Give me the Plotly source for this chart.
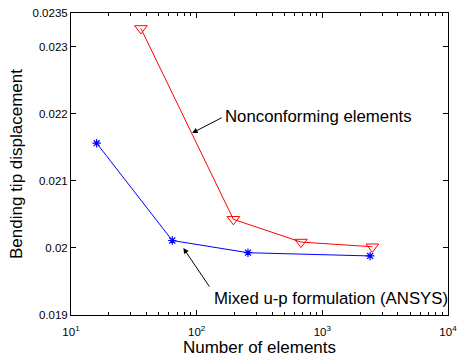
import plotly.graph_objects as go

# Data
mixed_n = [16, 64, 256, 2400]
mixed_disp = [0.02156, 0.02011, 0.019928, 0.01988]
noncon_n = [36, 196, 676, 2500]
noncon_disp = [0.02327, 0.020426, 0.020087, 0.020017]

x_tickvals = [10, 100, 1000, 10000]
x_ticktext = ["10<sup>1</sup>", "10<sup>2</sup>", "10<sup>3</sup>", "10<sup>4</sup>"]
x_minor = [m * 10 ** d for d in (1, 2, 3) for m in range(2, 10)]
y_tickvals = [0.019, 0.020, 0.021, 0.022, 0.023, 0.0235]
y_ticktext = ["0.019", "0.02", "0.021", "0.022", "0.023", "0.0235"]

FONT = "Liberation Sans, Arial, sans-serif"

fig = go.Figure()
fig.add_trace(go.Scatter(
    x=mixed_n, y=mixed_disp, mode="lines+markers",
    line=dict(color="#0000ff", width=1),
    marker=dict(symbol="asterisk-open", size=7, color="#0000ff",
                line=dict(color="#0000ff", width=1.2)),
    showlegend=False))
fig.add_trace(go.Scatter(
    x=noncon_n, y=noncon_disp, mode="lines+markers",
    line=dict(color="#ff0000", width=1),
    marker=dict(symbol="triangle-down-open", size=11, color="#ff0000",
                line=dict(color="#ff0000", width=1)),
    showlegend=False))

fig.update_layout(
    width=463, height=358,
    margin=dict(l=71, r=6, t=13, b=43),
    paper_bgcolor="white", plot_bgcolor="white",
    font=dict(family=FONT, size=11.5, color="black"),
    xaxis=dict(type="log", range=[1, 4], tickvals=x_tickvals, ticktext=x_ticktext,
               ticks="inside", ticklen=5, tickcolor="black", mirror="ticks",
               showline=True, linecolor="black", linewidth=1, showgrid=False, zeroline=False,
               minor=dict(tickmode="array", tickvals=x_minor, ticks="inside", ticklen=3,
                          tickcolor="black", showgrid=False),
               ticklabeloverflow="allow", ticklabelstandoff=6,
               title=dict(text="Number of elements", font=dict(size=17), standoff=2),
               tickfont=dict(size=11.5)),
    yaxis=dict(range=[0.019, 0.0235], tickvals=y_tickvals, ticktext=y_ticktext,
               ticks="inside", ticklen=5, tickcolor="black", mirror="ticks",
               showline=True, linecolor="black", linewidth=1, showgrid=False, zeroline=False,
               title=dict(text="Bending tip displacement", font=dict(size=17), standoff=5),
               tickfont=dict(size=11.5)),
)

# Arrow annotations: heads at data locations, tails as pixel offsets
fig.add_annotation(
    x=1.964, y=0.021712, xref="x", yref="y",
    ax=31, ay=-16, text="", showarrow=True,
    arrowhead=2, arrowsize=1.1, arrowwidth=1, arrowcolor="black")
fig.add_annotation(
    x=0.404, y=0.656, xref="paper", yref="paper", xanchor="left", yanchor="middle",
    text="Nonconforming elements", showarrow=False, font=dict(size=16.8))
fig.add_annotation(
    x=1.894, y=0.019998, xref="x", yref="y",
    ax=27, ay=40, text="", showarrow=True,
    arrowhead=2, arrowsize=1.1, arrowwidth=1, arrowcolor="black")
fig.add_annotation(
    x=0.373, y=0.056, xref="paper", yref="paper", xanchor="left", yanchor="middle",
    text="Mixed u-p formulation (ANSYS)", showarrow=False, font=dict(size=16.8))

fig.write_html("out.html")
